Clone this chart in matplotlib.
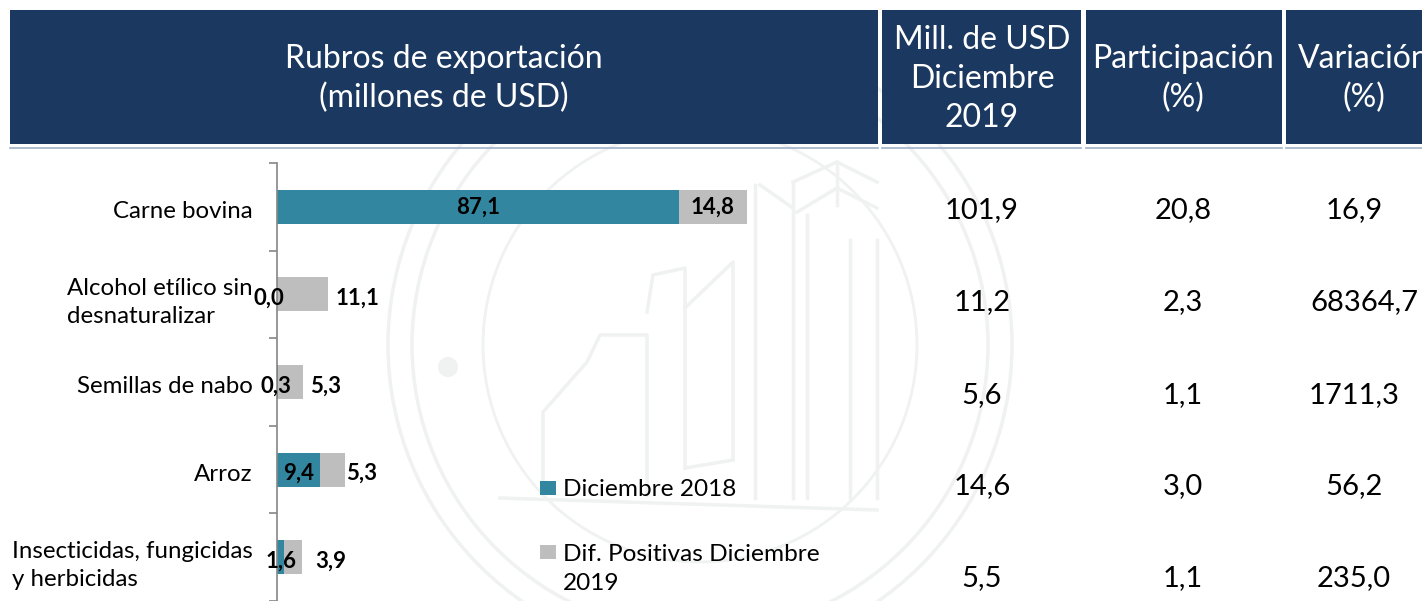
import matplotlib
matplotlib.use("Agg")
import matplotlib.pyplot as plt
from matplotlib.patches import Rectangle, Circle
from matplotlib.transforms import ScaledTranslation

plt.rcParams['font.family'] = ['Lato', 'DejaVu Sans']

W, H = 1422, 601

rubros = ["Carne bovina", "Alcohol etílico sin\ndesnaturalizar", "Semillas de nabo",
          "Arroz", "Insecticidas, fungicidas\ny herbicidas"]
dic_2018 = [87.1, 0.0, 0.3, 9.4, 1.6]
dif_pos = [14.8, 11.1, 5.3, 5.3, 3.9]
dic_2018_txt = ["87,1", "0,0", "0,3", "9,4", "1,6"]
dif_pos_txt = ["14,8", "11,1", "5,3", "5,3", "3,9"]
mill_usd = ["101,9", "11,2", "5,6", "14,6", "5,5"]
participacion = ["20,8", "2,3", "1,1", "3,0", "1,1"]
variacion = ["16,9", "68364,7", "1711,3", "56,2", "235,0"]

col_header = ["Rubros de exportación\n(millones de USD)", "Mill. de USD\nDiciembre\n2019",
              "Participación\n(%)", "Variación\n(%)"]
serie_names = ["Diciembre 2018", "Dif. Positivas Diciembre\n2019"]

AZUL = "#1a3860"
TEAL = "#33869f"
GRIS = "#bebebe"
MARCA = "#eff2f1"

fig = plt.figure(figsize=(W / 100, H / 100), dpi=100, facecolor="white")

# fondo en pixeles: marca de agua, cabecera y tabla
bg = fig.add_axes([0, 0, 1, 1])
bg.set_xlim(0, W)
bg.set_ylim(H, 0)
bg.axis("off")

for r, lw in [(312, 2.5), (288, 2.5), (217, 2)]:
    bg.add_patch(Circle((700, 345), r, fill=False, ec=MARCA, lw=lw, zorder=0.5))
bg.add_patch(Circle((448, 367), 10, fc=MARCA, ec="none", zorder=0.5))

# edificios del sello (decorado)
edificios = [
    [(543, 495), (543, 412), (587, 362), (600, 335), (647, 335), (647, 495)],
    [(647, 312), (653, 275), (685, 268), (685, 468)],
    [(685, 308), (733, 262), (733, 460)],
    [(685, 468), (733, 460)],
    [(755, 185), (755, 498)],
    [(760, 185), (793, 208)],
    [(793, 182), (837, 162), (877, 182)],
    [(797, 212), (837, 188), (877, 208)],
    [(793, 182), (793, 498)],
    [(807, 215), (807, 498)],
    [(837, 162), (837, 205)],
    [(850, 240), (850, 498)],
    [(877, 240), (877, 498)],
    [(500, 498), (877, 510)],
]
for linea in edificios:
    bg.plot([p[0] for p in linea], [p[1] for p in linea], color=MARCA, lw=2.5, zorder=0.5)

header_boxes = [(10, 878), (882, 1081), (1086, 1282), (1286, 1422)]
header_x = [444, 982, 1183, 1364]
for (x0, x1), hx, txt in zip(header_boxes, header_x, col_header):
    bg.add_patch(Rectangle((x0, 10), x1 - x0, 134, fc=AZUL, ec="none"))
    bg.plot([x0, x1], [148, 148], color="#9fb0c8", lw=1.2)
    bg.text(hx, 79, txt, color="white", fontsize=23, ha="center", va="center",
            linespacing=1.36, clip_on=True)

rows_y = [210, 302, 395, 486, 578]
for yy, a, b, c in zip(rows_y, mill_usd, participacion, variacion):
    bg.text(982, yy, a, fontsize=21, ha="center", va="center", color="black")
    bg.text(1183, yy, b, fontsize=21, ha="center", va="center", color="black")
    dx = 10 if len(c) > 6 else 0
    bg.text(1354 + dx, yy, c, fontsize=21, ha="center", va="center", color="black")

# leyenda
bg.add_patch(Rectangle((540, 481), 16, 14, fc=TEAL, ec="none"))
bg.add_patch(Rectangle((540, 545), 16, 14, fc=GRIS, ec="none"))
bg.text(563, 489, serie_names[0], fontsize=17.6, ha="left", va="center")
bg.text(563, 569, serie_names[1], fontsize=17.6, ha="left", va="center", linespacing=1.44)

# barras
left, right, top = 277, 877, 163
ax = fig.add_axes([left / W, 0, (right - left) / W, (H - top) / H])
ax.patch.set_alpha(0)
PX_X = 4.61
ax.set_xlim(0, (right - left) / PX_X)
ax.set_ylim((H - top) / 88 - 0.5, -0.5)

y = range(len(rubros))
ax.barh(y, dic_2018, height=0.39, color=TEAL)
ax.barh(y, dif_pos, left=dic_2018, height=0.39, color=GRIS)

ax.set_xticks([])
ax.set_yticks([i - 0.5 for i in range(6)])
ax.set_yticklabels([])
ax.set_yticks(list(y), labels=rubros, minor=True, multialignment="left", fontsize=17.3,
              linespacing=1.42)
ax.tick_params(axis="y", which="major", length=6, width=1.2, color="#868686")
ax.tick_params(axis="y", which="minor", length=0, pad=17.5)
baja = ScaledTranslation(0, -2 / 72, fig.dpi_scale_trans)
for t in ax.get_yticklabels(minor=True):
    t.set_transform(t.get_transform() + baja)
for s in ["top", "right", "bottom"]:
    ax.spines[s].set_visible(False)
ax.spines["left"].set_color("#868686")
ax.spines["left"].set_linewidth(1.2)

# etiquetas: desplazamientos en pixeles
teal_shift = [0, -8, -2, 0, 0]
gris_shift = [0, 29, 23, 17, 28]
baja_y = [0, -4, -4, -4, -4]
for i in y:
    ax.annotate(dic_2018_txt[i], (dic_2018[i] / 2, i), xytext=(teal_shift[i] * 0.72, baja_y[i] * 0.72),
                textcoords="offset points", ha="center", va="center", fontsize=16,
                fontweight="bold", annotation_clip=False)
    total = dic_2018[i] + dif_pos[i]
    xpos = total - dif_pos[i] / 2 if gris_shift[i] == 0 else total
    ax.annotate(dif_pos_txt[i], (xpos, i), xytext=(gris_shift[i] * 0.72, baja_y[i] * 0.72),
                textcoords="offset points", ha="center", va="center", fontsize=16,
                fontweight="bold", annotation_clip=False)

fig.savefig("out.png", dpi=100)
